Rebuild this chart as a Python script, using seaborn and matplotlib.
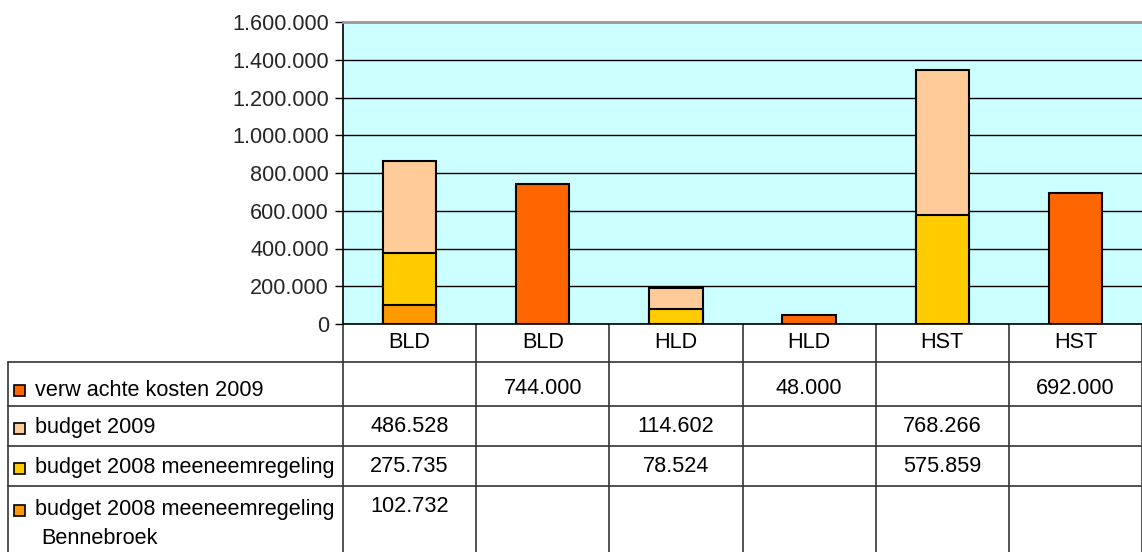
import numpy as np
import pandas as pd
import seaborn as sns
import matplotlib.pyplot as plt
from matplotlib.patches import Rectangle
from matplotlib.ticker import FuncFormatter

# --- data -------------------------------------------------------------
columns = ["BLD", "BLD", "HLD", "HLD", "HST", "HST"]
series_names = [
    "verw achte kosten 2009",
    "budget 2009",
    "budget 2008 meeneemregeling",
    "budget 2008 meeneemregeling\nBennebroek",
]
verwachte_kosten = [np.nan, 744000, np.nan, 48000, np.nan, 692000]
budget_2009 = [486528, np.nan, 114602, np.nan, 768266, np.nan]
budget_2008 = [275735, np.nan, 78524, np.nan, 575859, np.nan]
bennebroek = [102732, np.nan, np.nan, np.nan, np.nan, np.nan]
y_ticks = [0, 200000, 400000, 600000, 800000, 1000000, 1200000, 1400000, 1600000]

colors = ["#FF6600", "#FFCC99", "#FFCC00", "#FF9900"]
FONT = "Liberation Sans"
FS = 15.6

df = pd.DataFrame({
    "pos": range(len(columns)),
    "verw": verwachte_kosten,
    "b2009": budget_2009,
    "b2008": budget_2008,
    "benne": bennebroek,
})
stack = df[["benne", "b2008", "b2009"]]
df["top3"] = stack.sum(axis=1, min_count=1)
df["top2"] = stack[["benne", "b2008"]].sum(axis=1, min_count=1)

sns.set_theme(style="white")
plt.rcParams["font.family"] = [FONT, "DejaVu Sans"]

W, H = 1142, 552
fig = plt.figure(figsize=(W / 100, H / 100), dpi=100)
fig.patch.set_facecolor("white")

x0, x1, ytop, ybot = 343, 1142, 22, 324
ax = fig.add_axes([x0 / W, (H - ybot) / H, (x1 - x0) / W, (ybot - ytop) / H])
ax.set_facecolor("#CCFFFF")

order = list(range(len(columns)))
bar_kw = dict(order=order, width=0.4, edgecolor="black", linewidth=1.5,
              errorbar=None, saturation=1, ax=ax)
# stacked columns: draw cumulative totals from the top down
sns.barplot(data=df, x="pos", y="top3", color=colors[1], **bar_kw)
sns.barplot(data=df, x="pos", y="top2", color=colors[2], **bar_kw)
sns.barplot(data=df, x="pos", y="benne", color=colors[3], **bar_kw)
sns.barplot(data=df, x="pos", y="verw", color=colors[0], **bar_kw)

ax.set_xlim(-0.5, len(columns) - 0.5)
ax.set_ylim(0, 1600000)
ax.set_yticks(y_ticks)
ax.yaxis.set_major_formatter(FuncFormatter(lambda v, p: f"{int(v):,}".replace(",", ".")))
ax.set_xlabel("")
ax.set_ylabel("")
ax.set_xticks([])
ax.yaxis.grid(True, color="black", linewidth=1)
ax.set_axisbelow(True)
ax.tick_params(axis="y", direction="out", length=6, width=1, color="black",
               labelsize=FS, pad=4, left=True)
for lbl in ax.get_yticklabels():
    lbl.set_fontfamily(FONT)
for side in ("left", "bottom"):
    ax.spines[side].set_color("black")
    ax.spines[side].set_linewidth(1.2)
ax.spines["top"].set_color("#999999")
ax.spines["top"].set_linewidth(2)
ax.spines["right"].set_visible(False)

# --- data table below the plot ----------------------------------------
tab = fig.add_axes([0, 0, 1, 1], zorder=-1)
tab.set_xlim(0, W)
tab.set_ylim(H, 0)
tab.axis("off")

fig.canvas.draw()
edges = [ax.transData.transform((e - 0.5, 0))[0] for e in range(len(columns) + 1)]
centers = [(a + b) / 2 for a, b in zip(edges[:-1], edges[1:])]

line_c = "#333333"
row_edges = [362, 406, 446, 486, 552]
left = 8
for e in edges:
    tab.plot([e, e], [ybot, H], color=line_c, lw=1.2)
tab.plot([left, left], [row_edges[0], H], color=line_c, lw=1.2)
for r in row_edges[:-1]:
    tab.plot([left, W], [r, r], color=line_c, lw=1.2)

for c, name in zip(centers, columns):
    tab.text(c, 343, name, ha="center", va="center", fontsize=FS, family=FONT, color="black")

table_rows = [verwachte_kosten, budget_2009, budget_2008, bennebroek]
label_y = [390, 428, 468, 510]
value_y = [388, 427, 466, 507]
for i, (name, vals) in enumerate(zip(series_names, table_rows)):
    tab.add_patch(Rectangle((14, label_y[i] - 5.5), 11, 11, facecolor=colors[i],
                            edgecolor="black", lw=1.2))
    for k, ln in enumerate(name.split("\n")):
        tab.text(35 if k == 0 else 41, label_y[i] + k * 29, ln,
                 ha="left", va="center", fontsize=FS, family=FONT, color="black")
    for c, v in zip(centers, vals):
        if not np.isnan(v):
            tab.text(c, value_y[i], f"{int(v):,}".replace(",", "."), ha="center",
                     va="center", fontsize=FS, family=FONT, color="black")

fig.savefig("out.png", dpi=100, facecolor="white")
